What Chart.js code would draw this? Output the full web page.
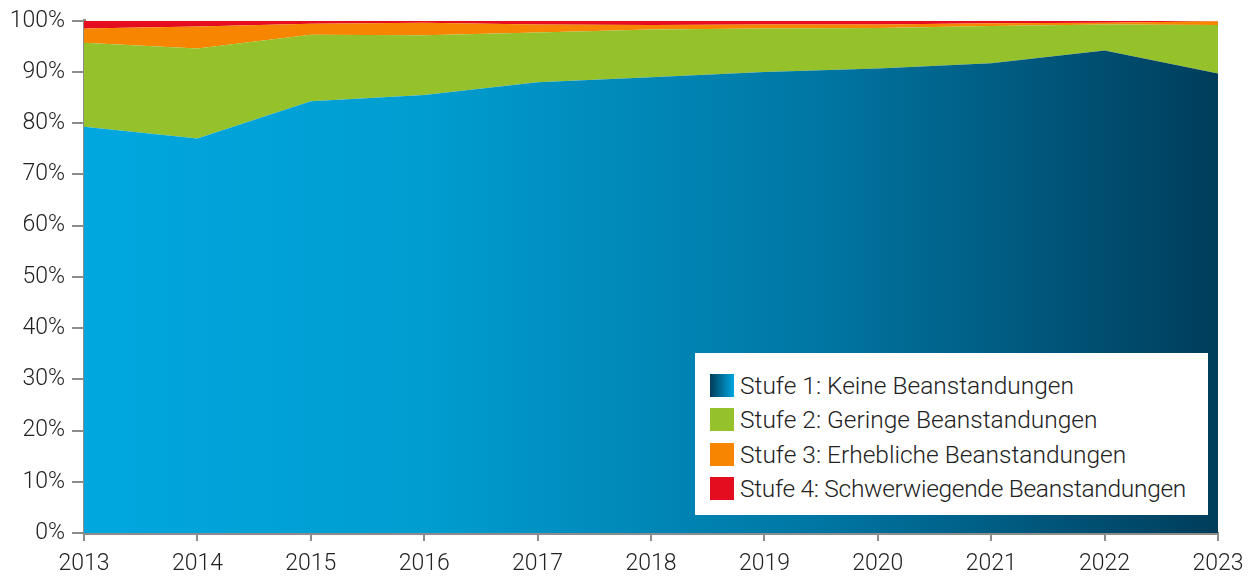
<!DOCTYPE html>
<html>
<head>
<meta charset="utf-8">
<script src="https://cdn.jsdelivr.net/npm/chart.js@4"></script>
<style>
    html, body { margin: 0; padding: 0; background: #fff; }
    #wrap { position: relative; width: 1257px; height: 576px; }
    #legend {
        position: absolute; left: 695px; top: 353px; width: 513px; height: 162px;
        background: #fff; box-sizing: border-box; padding: 15px 0 0 15px;
        font-family: Roboto, sans-serif; font-weight: 300; font-size: 24.5px; color: #222;
        white-space: nowrap;
    }
    #legend div { display: flex; align-items: center; height: 34.5px; }
    #legend div:last-child { letter-spacing: -0.3px; }
    #legend span.box { width: 24px; height: 23px; margin-right: 6px; flex: none; }
</style>
</head>
<body>
<div id="wrap">
    <canvas id="myChart" width="1257" height="576"></canvas>
    <div id="legend"></div>
</div>
<script>
const years = ['2013', '2014', '2015', '2016', '2017', '2018', '2019', '2020', '2021', '2022', '2023'];
const stufe1 = [79.3, 77.0, 84.3, 85.5, 88.0, 89.0, 90.0, 90.7, 91.7, 94.2, 89.7];
const stufe2 = [16.4, 17.6, 13.0, 11.7, 9.7, 9.3, 8.5, 7.9, 7.3, 5.1, 9.5];
const stufe3 = [2.8, 4.3, 2.1, 2.4, 1.6, 0.9, 0.8, 0.7, 0.5, 0.3, 0.7];
const stufe4 = [1.5, 1.1, 0.6, 0.4, 0.7, 0.8, 0.7, 0.7, 0.5, 0.4, 0.1];
const labels = [
    'Stufe 1: Keine Beanstandungen',
    'Stufe 2: Geringe Beanstandungen',
    'Stufe 3: Erhebliche Beanstandungen',
    'Stufe 4: Schwerwiegende Beanstandungen',
];

const axisColor = '#8c8c8c';
const tickFont = { family: 'Roboto', size: 23, weight: 300 };

const blueFill = (context) => {
    const area = context.chart.chartArea;
    if (!area) return '#00a4dc';
    const g = context.chart.ctx.createLinearGradient(area.left, 0, area.right, 0);
    g.addColorStop(0, '#00a7df');
    g.addColorStop(0.3, '#009dd0');
    g.addColorStop(0.65, '#0076a3');
    g.addColorStop(1, '#003d5b');
    return g;
};

const ds = (label, data, color, fill) => ({
    label: label,
    data: data,
    backgroundColor: color,
    borderWidth: 0,
    pointRadius: 0,
    fill: fill,
    tension: 0,
});

const ctx = document.getElementById('myChart').getContext('2d');

new Chart(ctx, {
    type: 'line',
    data: {
        labels: years,
        datasets: [
            ds(labels[0], stufe1, blueFill, 'origin'),
            ds(labels[1], stufe2, '#95c12b', '-1'),
            ds(labels[2], stufe3, '#f78500', '-1'),
            ds(labels[3], stufe4, '#e30d1f', '-1'),
        ],
    },
    options: {
        responsive: false,
        animation: false,
        layout: { padding: { top: 17, right: 39, left: 0, bottom: 0 } },
        plugins: {
            legend: { display: false },
            tooltip: { enabled: false },
        },
        scales: {
            x: {
                offset: false,
                grid: { drawOnChartArea: false, tickLength: 8, color: axisColor, lineWidth: 2 },
                border: { color: axisColor, width: 3 },
                ticks: { font: tickFont, color: '#222', padding: 9, maxRotation: 0, autoSkip: false },
                afterFit: (s) => { s.height = 43; },
            },
            y: {
                stacked: true,
                min: 0,
                max: 100,
                grid: { drawOnChartArea: false, tickLength: 12, color: axisColor, lineWidth: 2 },
                border: { color: axisColor, width: 3 },
                ticks: {
                    stepSize: 10,
                    font: tickFont,
                    color: '#222',
                    padding: 7,
                    callback: (v) => v + '%',
                },
                afterFit: (s) => { s.width = 84; },
            },
        },
    },
});

// legend as html, built from the labels
const swatches = [
    'linear-gradient(to right, #003d5b, #00a7df)',
    '#95c12b',
    '#f78500',
    '#e30d1f',
];
const legend = document.getElementById('legend');
labels.forEach((l, i) => {
    const row = document.createElement('div');
    row.innerHTML = '<span class="box" style="background:' + swatches[i] + '"></span>' + l;
    legend.appendChild(row);
});
</script>
</body>
</html>
